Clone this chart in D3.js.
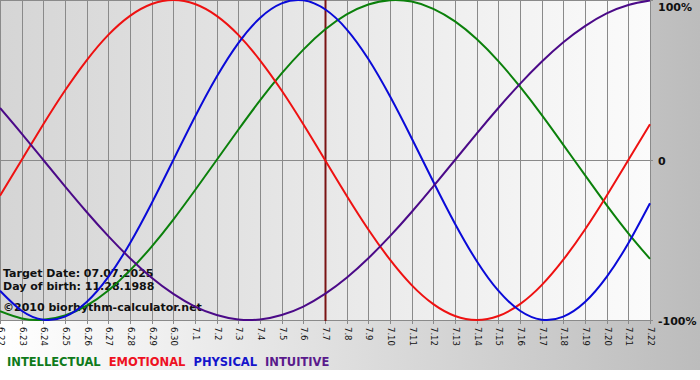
<!DOCTYPE html>
<html>
<head>
<meta charset="utf-8">
<script src="https://cdn.jsdelivr.net/npm/d3@7"></script>
<style>
  html, body { margin: 0; padding: 0; background: #fff; }
  svg { display: block; }
</style>
</head>
<body>
<div id="chart"></div>
<script>
// Day labels along the bottom (month.day)
const dates = ['6.22', '6.23', '6.24', '6.25', '6.26', '6.27', '6.28', '6.29', '6.30',
  '7.1', '7.2', '7.3', '7.4', '7.5', '7.6', '7.7', '7.8', '7.9', '7.10', '7.11', '7.12',
  '7.13', '7.14', '7.15', '7.16', '7.17', '7.18', '7.19', '7.20', '7.21', '7.22'];

// Cycle values in percent, one per day
const physical = [-81.7, -94.2, -99.8, -97.9, -88.8, -73.1, -52.0, -27.0, 0, 27.0, 52.0,
  73.1, 88.8, 97.9, 99.8, 94.2, 81.7, 63.1, 39.8, 13.6, -13.6, -39.8, -63.1, -81.7,
  -94.2, -99.8, -97.9, -88.8, -73.1, -52.0, -27.0];
const emotional = [-22.3, 0, 22.3, 43.4, 62.3, 78.2, 90.1, 97.5, 100, 97.5, 90.1, 78.2,
  62.3, 43.4, 22.3, 0, -22.3, -43.4, -62.3, -78.2, -90.1, -97.5, -100, -97.5, -90.1,
  -78.2, -62.3, -43.4, -22.3, 0, 22.3];
const intellectual = [-94.5, -99.0, -99.9, -97.2, -91.0, -81.5, -69.0, -54.1, -37.2,
  -18.9, 0, 18.9, 37.2, 54.1, 69.0, 81.5, 91.0, 97.2, 99.9, 99.0, 94.5, 86.6, 75.6,
  61.8, 45.8, 28.2, 9.5, -9.5, -28.2, -45.8, -61.8];
const intuitive = [32.5, 16.5, 0, -16.5, -32.5, -47.6, -61.4, -73.6, -83.7, -91.6, -96.9,
  -99.7, -99.7, -96.9, -91.6, -83.7, -73.6, -61.4, -47.6, -32.5, -16.5, 0, 16.5, 32.5,
  47.6, 61.4, 73.6, 83.7, 91.6, 96.9, 99.7];

const targetDay = '7.7';
const yTicks = [100, 0, -100];
const yTickLabels = ['100%', '0', '-100%'];
const infoLines = ['Target Date: 07.07.2025', 'Day of birth: 11.28.1988', '\u00A92010 biorhythm-calculator.net'];

const seriesNames = ['INTELLECTUAL', 'EMOTIONAL', 'PHYSICAL', 'INTUITIVE'];
const seriesColors = ['#0b800b', '#ee1111', '#0a0ad8', '#4b0a88'];
const legendColors = ['#0e7a1a', '#ee1122', '#1414cc', '#5a1a8c'];
const seriesValues = [intellectual, emotional, physical, intuitive];

const W = 700, H = 380;
const plotW = 650, plotH = 320;

const svg = d3.select('#chart').append('svg')
  .attr('width', W)
  .attr('height', H);

const defs = svg.append('defs');
const outerGrad = defs.append('linearGradient').attr('id', 'outer-grad');
outerGrad.append('stop').attr('offset', '0%').attr('stop-color', '#ffffff');
outerGrad.append('stop').attr('offset', '100%').attr('stop-color', '#bcbcbc');
const plotGrad = defs.append('linearGradient').attr('id', 'plot-grad');
plotGrad.append('stop').attr('offset', '0%').attr('stop-color', '#d5d5d5');
plotGrad.append('stop').attr('offset', '100%').attr('stop-color', '#fbfbfb');

// Backgrounds
svg.append('rect').attr('width', W).attr('height', 370).attr('fill', 'url(#outer-grad)');
svg.append('rect').attr('width', plotW + 1).attr('height', plotH + 1).attr('fill', 'url(#plot-grad)');

const x = d3.scalePoint().domain(dates).range([0, plotW]);
const y = d3.scaleLinear().domain([-100, 100]).range([plotH, 0]);
const px = d => Math.round(x(d)) + 0.5;

// Vertical day grid + ticks below
svg.append('g').selectAll('line')
  .data(dates)
  .enter().append('line')
  .attr('x1', px).attr('x2', px)
  .attr('y1', 0).attr('y2', plotH + 4)
  .attr('stroke', '#8a8a8a')
  .attr('stroke-width', 1);

// Horizontal lines (top, zero, bottom)
svg.append('g').selectAll('line')
  .data(yTicks)
  .enter().append('line')
  .attr('x1', 0).attr('x2', plotW + 3)
  .attr('y1', d => Math.round(y(d)) + 0.5)
  .attr('y2', d => Math.round(y(d)) + 0.5)
  .attr('stroke', '#8a8a8a')
  .attr('stroke-width', 1);

// Date labels, rotated
svg.append('g').selectAll('text')
  .data(dates)
  .enter().append('text')
  .attr('transform', d => `translate(${px(d)},${plotH + 7}) rotate(90)`)
  .attr('dominant-baseline', 'central')
  .style('font-family', "'DejaVu Sans', sans-serif")
  .style('font-size', '8.5px')
  .style('fill', '#111')
  .text(d => d);

// Y labels on the right
svg.append('g').selectAll('text')
  .data(yTicks)
  .enter().append('text')
  .attr('x', plotW + 8)
  .attr('y', d => Math.max(7, y(d) + 1.5))
  .attr('dominant-baseline', 'central')
  .style('font-family', "'DejaVu Sans', sans-serif")
  .style('font-size', '11px')
  .style('font-weight', 'bold')
  .style('fill', '#111')
  .text((d, i) => yTickLabels[i]);

// Info text (drawn below the curves)
svg.append('g').selectAll('text')
  .data(infoLines)
  .enter().append('text')
  .attr('x', 3)
  .attr('y', (d, i) => [277, 290, 311][i])
  .style('font-family', "'DejaVu Sans', sans-serif")
  .style('font-size', '11px')
  .style('font-weight', 'bold')
  .style('fill', '#111')
  .text(d => d);

// Target date marker
svg.append('line')
  .attr('x1', px(targetDay)).attr('x2', px(targetDay))
  .attr('y1', 0).attr('y2', plotH + 1)
  .attr('stroke', '#7a1414')
  .attr('stroke-width', 2);

// Curves
const line = d3.line()
  .x((d, i) => x(dates[i]))
  .y(d => y(d))
  .curve(d3.curveNatural);

svg.append('g').selectAll('path')
  .data(seriesValues)
  .enter().append('path')
  .attr('d', d => line(d))
  .attr('fill', 'none')
  .attr('stroke', (d, i) => seriesColors[i])
  .attr('stroke-width', 2);

// Legend
const legend = svg.append('g');
let lx = 7;
seriesNames.forEach((name, i) => {
  const t = legend.append('text')
    .attr('x', lx)
    .attr('y', 366)
    .style('font-family', "'DejaVu Sans', sans-serif")
    .style('font-size', '11.5px')
    .style('font-weight', 'bold')
    .style('fill', legendColors[i])
    .text(name);
  lx += t.node().getComputedTextLength() + 8;
});
</script>
</body>
</html>
